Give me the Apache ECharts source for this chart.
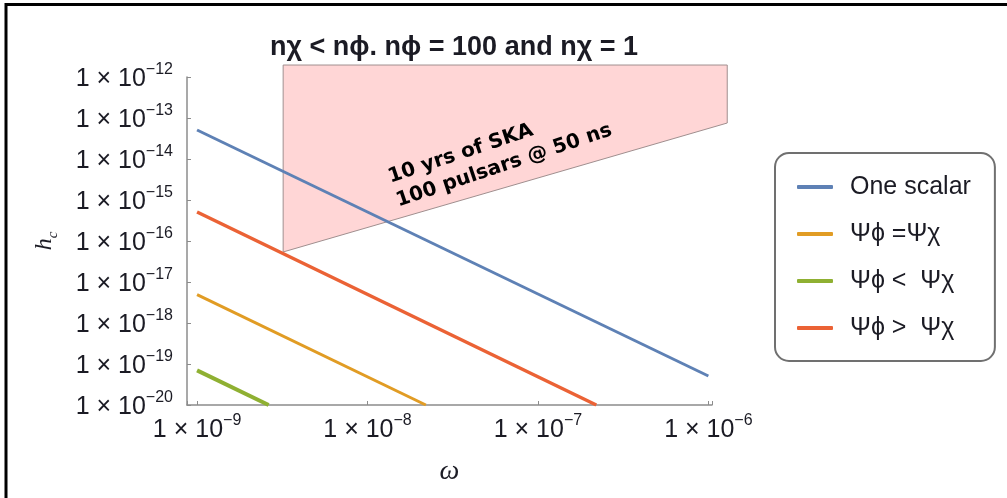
<!DOCTYPE html>
<html>
<head>
<meta charset="utf-8">
<script src="https://cdn.jsdelivr.net/npm/echarts@6/dist/echarts.min.js"></script>
<style>
  html, body { margin: 0; padding: 0; background: #ffffff; }
  #chart { width: 1007px; height: 498px; }
</style>
</head>
<body>
<div id="chart"></div>
<script>
// ---- data (log-log plot) ----
const titleText = 'nχ < nϕ. nϕ = 100 and nχ = 1';
const seriesNames = ['One scalar', 'Ψϕ =Ψχ', 'Ψϕ <  Ψχ', 'Ψϕ >  Ψχ'];

const oneScalarX = [1e-9, 1e-6];
const oneScalarY = [5.1e-14, 5.1e-20];

const equalX = [1e-9, 2.2e-8];
const equalY = [4.9e-18, 1e-20];

const lessX = [1e-9, 2.63e-9];
const lessY = [7e-20, 1e-20];

const greaterX = [1e-9, 2.2e-7];
const greaterY = [5.1e-16, 1e-20];

// SKA sensitivity region (polygon vertices)
const skaX = [3.2e-9, 1.29e-6, 1.29e-6, 3.2e-9];
const skaY = [1.96e-12, 1.96e-12, 7.55e-14, 5.4e-17];
const skaLabel = '10 yrs of SKA\n100 pulsars @ 50 ns';

// axis extents and tick exponents
const xMin = 8.73e-10, xMax = 1.05e-6;
const yMin = 1e-20, yMax = 1e-12;
const xTickExps = [-9, -8, -7, -6];
const yTickExps = [-20, -19, -18, -17, -16, -15, -14, -13, -12];

const colors = ['#5E81B5', '#E19C24', '#8FB032', '#EB6235'];

function zip(xs, ys) { return xs.map((x, i) => [x, ys[i]]); }

function powLabel(exps) {
  return function (v) {
    const l = Math.log10(v);
    const e = Math.round(l);
    if (Math.abs(l - e) > 1e-6 || exps.indexOf(e) < 0) return '';
    return '{b|1 × 10}{e|' + (e < 0 ? '−' : '') + Math.abs(e) + '}';
  };
}

const labelRich = {
  b: { fontFamily: 'Liberation Sans', fontSize: 25, color: '#1b1b24', lineHeight: 30, verticalAlign: 'bottom' },
  e: { fontFamily: 'Liberation Sans', fontSize: 16, color: '#1b1b24', lineHeight: 16, verticalAlign: 'top' }
};

const chart = echarts.init(document.getElementById('chart'), null, { renderer: 'canvas' });

const option = {
  backgroundColor: '#ffffff',
  animation: false,
  title: {
    text: titleText,
    left: 449,
    top: 29,
    textAlign: 'center',
    textStyle: { fontFamily: 'Liberation Sans', fontWeight: 'bold', fontSize: 27, color: '#1b1b24' }
  },
  grid: { left: 187, right: 295, top: 77, bottom: 93, containLabel: false },
  legend: {
    orient: 'vertical',
    left: 775,
    top: 153,
    data: seriesNames,
    icon: 'roundRect',
    itemWidth: 36,
    itemHeight: 4,
    itemGap: 19,
    padding: [20, 24, 19, 22],
    borderColor: '#707070',
    borderWidth: 2,
    borderRadius: 14,
    backgroundColor: '#ffffff',
    selectedMode: false,
    textStyle: { fontFamily: 'Liberation Sans', fontSize: 25, color: '#1b1b24', lineHeight: 28, padding: [0, 0, 0, 12] }
  },
  xAxis: {
    type: 'log',
    logBase: 10,
    min: xMin,
    max: xMax,
    name: 'ω',
    nameLocation: 'middle',
    nameGap: 53,
    nameTextStyle: { fontFamily: 'Liberation Serif', fontStyle: 'italic', fontSize: 28, color: '#1b1b24' },
    axisLine: { show: true, lineStyle: { color: '#8c8c8c', width: 1.5 } },
    axisTick: { show: true, inside: true, length: 4, lineStyle: { color: '#8c8c8c' } },
    splitLine: { show: false },
    minorTick: { show: false },
    axisLabel: { formatter: powLabel(xTickExps), rich: labelRich, margin: 8 }
  },
  yAxis: {
    type: 'log',
    logBase: 10,
    min: yMin,
    max: yMax,
    name: '{h|h}{c|c}',
    nameLocation: 'middle',
    nameGap: 126,
    nameRotate: 90,
    nameTextStyle: {
      rich: {
        h: { fontFamily: 'Liberation Serif', fontStyle: 'italic', fontSize: 24, color: '#1b1b24', lineHeight: 28, verticalAlign: 'top' },
        c: { fontFamily: 'Liberation Serif', fontStyle: 'italic', fontSize: 15, color: '#1b1b24', lineHeight: 15, verticalAlign: 'bottom' }
      }
    },
    axisLine: { show: true, lineStyle: { color: '#8c8c8c', width: 1.5 } },
    axisTick: { show: true, inside: true, length: 4, lineStyle: { color: '#8c8c8c' } },
    splitLine: { show: false },
    minorTick: { show: false },
    axisLabel: { formatter: powLabel(yTickExps), rich: labelRich, margin: 14 }
  },
  graphic: [
    {
      type: 'rect',
      shape: { x: 6, y: 4.5, width: 1010, height: 500 },
      style: { fill: 'none', stroke: '#000000', lineWidth: 3 },
      silent: true,
      z: 100
    },
    {
      type: 'text',
      x: 385,
      y: 166,
      rotation: 18.5 * Math.PI / 180,
      style: {
        text: skaLabel,
        fontFamily: 'DejaVu Sans',
        fontWeight: 'bold',
        fontSize: 20,
        lineHeight: 25,
        fill: '#000000',
        align: 'left',
        verticalAlign: 'top'
      },
      z: 50
    }
  ],
  series: [
    {
      type: 'custom',
      name: 'SKA',
      coordinateSystem: 'cartesian2d',
      clip: false,
      z: 1,
      silent: true,
      data: zip(skaX, skaY),
      renderItem: function (params, api) {
        if (params.dataIndex !== 0) return null;
        const pts = skaX.map((x, i) => api.coord([x, skaY[i]]));
        return {
          type: 'polygon',
          shape: { points: pts },
          style: { fill: '#FFD6D6', stroke: '#A08F8F', lineWidth: 1 }
        };
      }
    },
    {
      type: 'line', name: seriesNames[0], data: zip(oneScalarX, oneScalarY),
      showSymbol: false, z: 3, color: colors[0], lineStyle: { width: 3, color: colors[0] }
    },
    {
      type: 'line', name: seriesNames[1], data: zip(equalX, equalY),
      showSymbol: false, z: 3, color: colors[1], lineStyle: { width: 3, color: colors[1] }
    },
    {
      type: 'line', name: seriesNames[2], data: zip(lessX, lessY),
      showSymbol: false, z: 3, color: colors[2], lineStyle: { width: 4, color: colors[2] }
    },
    {
      type: 'line', name: seriesNames[3], data: zip(greaterX, greaterY),
      showSymbol: false, z: 3, color: colors[3], lineStyle: { width: 3.5, color: colors[3] }
    }
  ]
};

chart.setOption(option);
</script>
</body>
</html>
